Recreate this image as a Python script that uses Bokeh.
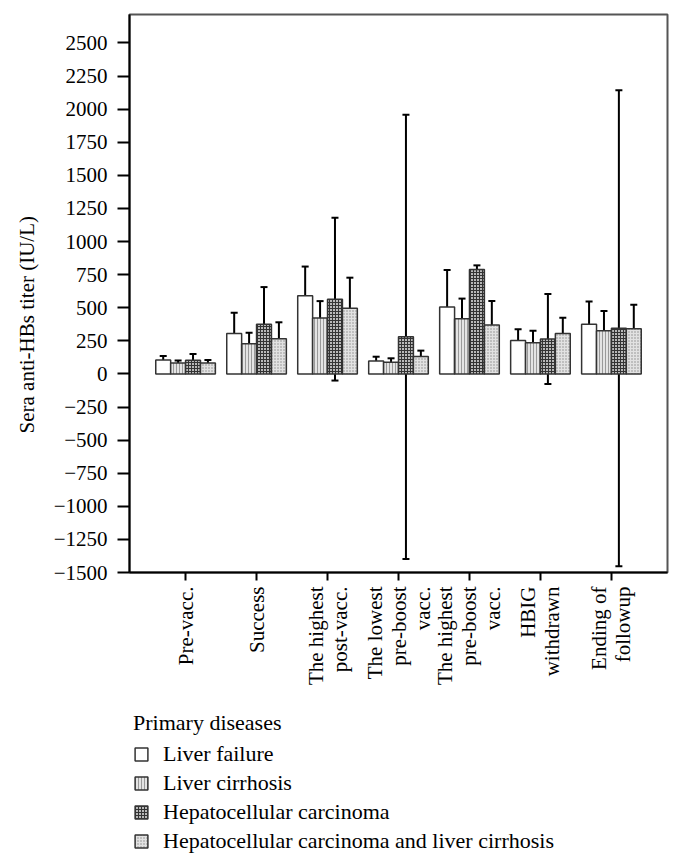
import math
from bokeh.plotting import figure
from bokeh.layouts import column
from bokeh.models import (ColumnDataSource, Range1d, FixedTicker, Whisker, TeeHead,
                          Legend, LegendItem, Title)
from bokeh.embed import file_html
from bokeh.resources import INLINE

# ---------------- data ----------------
categories = ["Pre-vacc.", "Success", "The highest\npost-vacc.",
              "The lowest\npre-boost\nvacc.", "The highest\npre-boost\nvacc.",
              "HBIG\nwithdrawn", "Ending of\nfollowup"]

series_names = ["Liver failure", "Liver cirrhosis", "Hepatocellular carcinoma",
                "Hepatocellular carcinoma and liver cirrhosis"]

liver_failure = [105, 305, 590, 98, 506, 252, 375]
liver_failure_sd = [30, 157, 221, 32, 279, 85, 173]

liver_cirrhosis = [82, 228, 422, 88, 417, 236, 326]
liver_cirrhosis_sd = [20, 83, 128, 30, 152, 90, 149]

hcc = [103, 376, 565, 280, 788, 264, 345]
hcc_sd = [47, 280, 615, 1678, 32, 340, 1798]

hcc_lc = [83, 265, 497, 132, 370, 306, 341]
hcc_lc_sd = [22, 125, 230, 44, 181, 118, 182]

y_ticks = [-1500, -1250, -1000, -750, -500, -250, 0, 250, 500, 750,
           1000, 1250, 1500, 1750, 2000, 2250, 2500]

means = [liver_failure, liver_cirrhosis, hcc, hcc_lc]
sds = [liver_failure_sd, liver_cirrhosis_sd, hcc_sd, hcc_lc_sd]

# ---------------- styles ----------------
FONT = "Liberation Serif"
offsets = [-0.315, -0.105, 0.105, 0.315]
bar_w = 0.21
styles = [
    dict(fill_color="white"),
    dict(fill_color="#e4e4e4", hatch_pattern="|", hatch_color="#9a9a9a",
         hatch_scale=3, hatch_weight=1),
    dict(fill_color="#b8b8b8", hatch_pattern="+", hatch_color="#333333",
         hatch_scale=3, hatch_weight=1),
    dict(fill_color="#e2e2e2", hatch_pattern=".", hatch_color="#8a8a8a",
         hatch_scale=3, hatch_weight=1),
]
bar_line = dict(line_color="#333333", line_width=1.5)

W = 679
p = figure(width=W, height=702,
           x_range=Range1d(0.21, 7.79), y_range=Range1d(-1500, 2715),
           output_backend="svg", toolbar_location=None,
           min_border_left=129, min_border_top=14, min_border_right=12,
           min_border_bottom=130, background_fill_color="white",
           border_fill_color="white", frame_align=False)
p.xgrid.visible = False
p.ygrid.visible = False
p.outline_line_color = "#555555"
p.outline_line_width = 2

for k in range(4):
    xs = [i + 1 + offsets[k] for i in range(len(categories))]
    src = ColumnDataSource(dict(
        x=xs, top=means[k],
        upper=[m + s for m, s in zip(means[k], sds[k])],
        lower=[m - s for m, s in zip(means[k], sds[k])]))
    p.vbar(x="x", top="top", bottom=0, width=bar_w, source=src,
           **bar_line, **styles[k])
    w = Whisker(source=src, base="x", upper="upper", lower="lower",
                dimension="height", line_color="black", line_width=2,
                upper_head=TeeHead(size=7, line_width=2, line_color="black"),
                lower_head=TeeHead(size=7, line_width=2, line_color="black"))
    p.add_layout(w)

# y axis
yax = p.yaxis[0]
yax.ticker = FixedTicker(ticks=y_ticks)
yax.major_label_overrides = {t: (str(t).replace("-", "\u2212")) for t in y_ticks}
yax.major_tick_out = 12
yax.major_tick_in = 0
yax.minor_tick_line_color = None
yax.major_label_standoff = 10
yax.major_label_text_font = FONT
yax.major_label_text_font_size = "21px"
yax.major_label_text_color = "black"
yax.axis_line_width = 2
yax.axis_line_color = "black"
yax.major_tick_line_width = 2

# x axis
xax = p.xaxis[0]
xax.ticker = FixedTicker(ticks=list(range(1, len(categories) + 1)))
xax.major_label_overrides = {i + 1: c for i, c in enumerate(categories)}
xax.major_label_orientation = math.pi / 2
xax.major_tick_out = 8
xax.major_tick_in = 0
xax.minor_tick_line_color = None
xax.major_label_standoff = 6
xax.major_label_text_font = FONT
xax.major_label_text_font_size = "21px"
xax.major_label_text_color = "black"
xax.major_label_text_line_height = 1.0
xax.axis_line_width = 2
xax.axis_line_color = "black"
xax.major_tick_line_width = 2

# y axis title
p.add_layout(Title(text="Sera anti-HBs titer (IU/L)", align="left", offset=139,
                   standoff=24, text_font=FONT, text_font_size="21px",
                   text_font_style="normal", text_color="black"), "left")

# ---------------- legend panel ----------------
LH = 154
q = figure(width=W, height=LH, x_range=Range1d(0, 1), y_range=Range1d(0, 1),
           output_backend="svg", toolbar_location=None,
           x_axis_type=None, y_axis_type=None, min_border=0,
           background_fill_color="white", border_fill_color="white",
           frame_align=False)
q.outline_line_color = None

items = []
for k in range(4):
    r = q.vbar(x=[0.5], top=[0.6], bottom=0.4, width=0.2, **bar_line, **styles[k])
    r.visible = False
    items.append(LegendItem(label=series_names[k], renderers=[r]))

legend = Legend(items=items, location=(133, 2), orientation="vertical",
                title="Primary diseases", title_text_font=FONT,
                title_text_font_size="22px", title_text_font_style="normal",
                title_text_color="black", title_standoff=5,
                label_text_font=FONT, label_text_font_size="22px",
                label_text_color="black",
                glyph_width=16, glyph_height=16, label_height=24,
                label_standoff=14, spacing=3, padding=0, margin=0,
                inactive_fill_alpha=0,
                border_line_color=None, background_fill_alpha=0)
q.add_layout(legend)

layout = column(p, q, spacing=0)
open("out.html", "w").write(file_html(layout, INLINE))
